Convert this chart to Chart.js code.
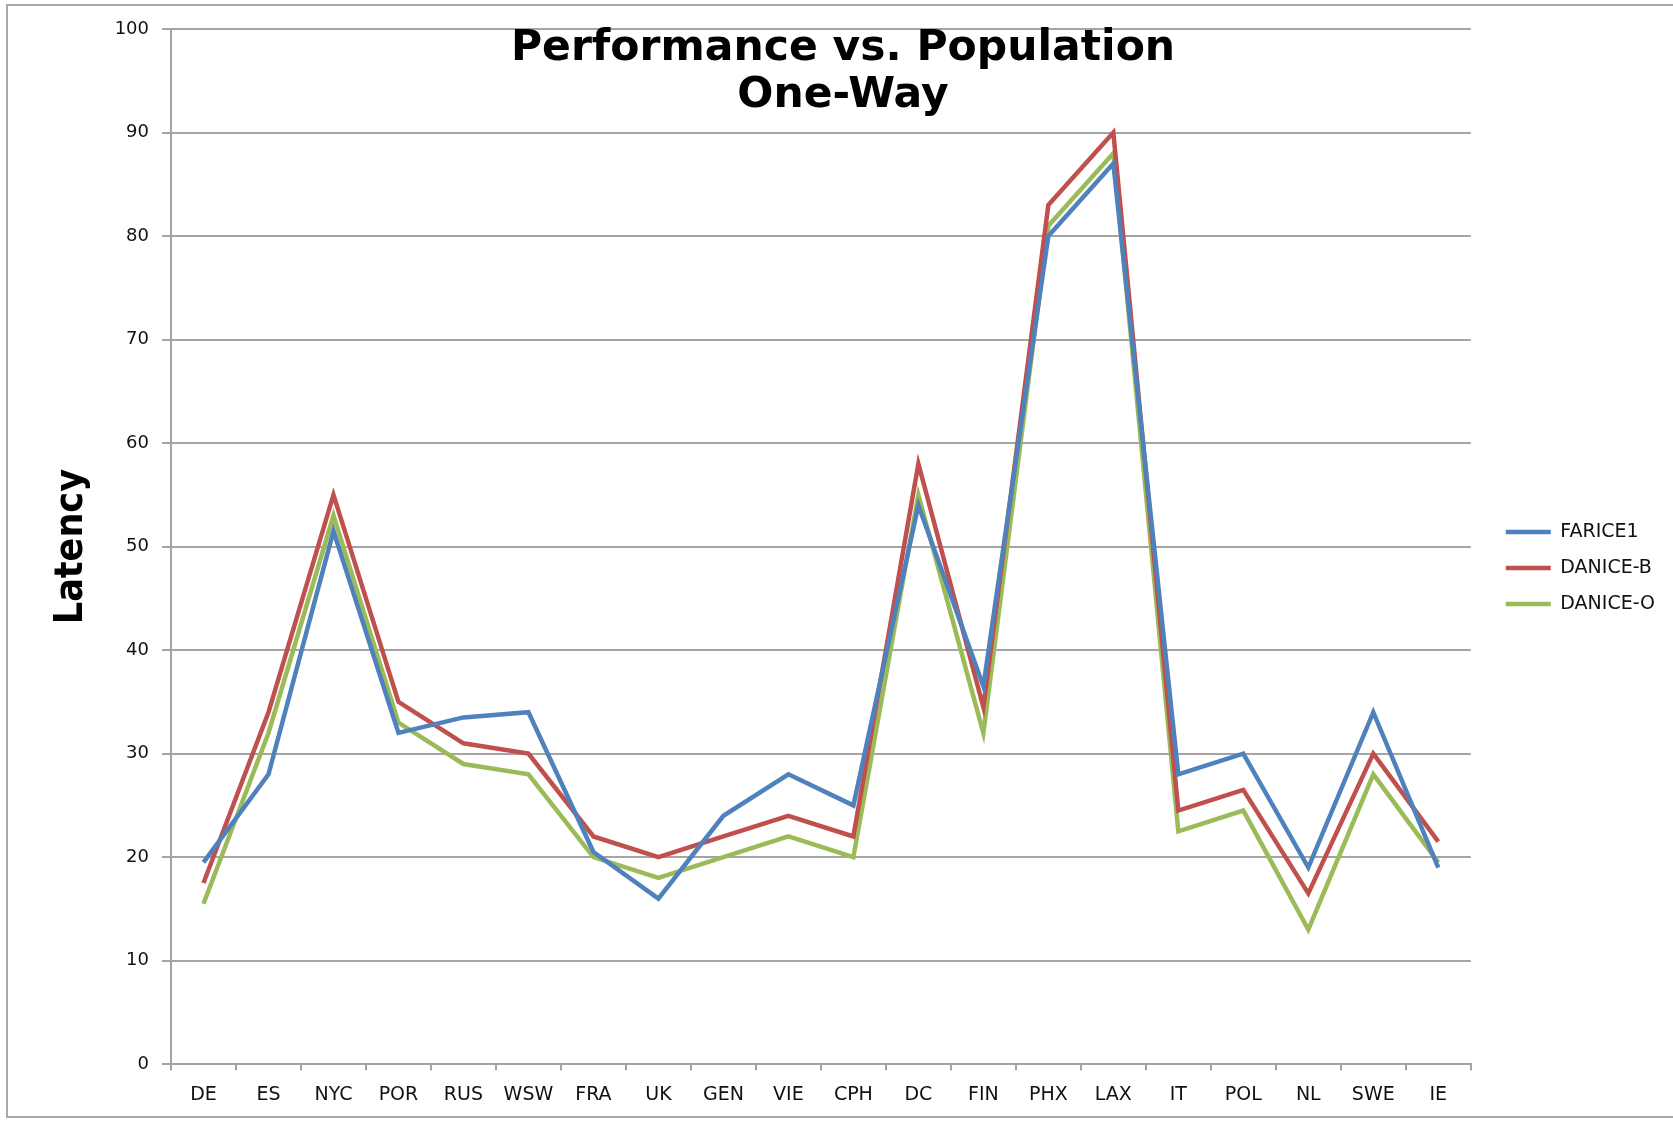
<!DOCTYPE html>
<html>
<head>
<meta charset="utf-8">
<script src="https://cdn.jsdelivr.net/npm/chart.js@4.4.1/dist/chart.umd.min.js"></script>
<style>
  html, body { margin: 0; padding: 0; background: #ffffff; overflow: hidden; }
  #wrap { position: relative; width: 1673px; height: 1121px; }
  #frame { position: absolute; left: 6px; top: 4px; width: 1700px; height: 1114px; border: 2px solid #a8a8a8; box-sizing: border-box; }
  #c { position: absolute; left: 0; top: 0; }
</style>
</head>
<body>
<div id="wrap">
  <div id="frame"></div>
  <canvas id="c" width="1673" height="1121"></canvas>
</div>
<script>
const categories = ["DE","ES","NYC","POR","RUS","WSW","FRA","UK","GEN","VIE","CPH","DC","FIN","PHX","LAX","IT","POL","NL","SWE","IE"];
const farice1  = [19.5, 28, 51.5, 32, 33.5, 34, 20.5, 16, 24, 28, 25, 54, 36.5, 80, 87, 28, 30, 19, 34, 19];
const daniceB  = [17.5, 34, 55, 35, 31, 30, 22, 20, 22, 24, 22, 58, 34.5, 83, 90, 24.5, 26.5, 16.5, 30, 21.5];
const daniceO  = [15.5, 32, 53, 33, 29, 28, 20, 18, 20, 22, 20, 55, 32, 81, 88, 22.5, 24.5, 13, 28, 19.5];
const seriesNames = ["FARICE1", "DANICE-B", "DANICE-O"];
const yTicks = [0, 10, 20, 30, 40, 50, 60, 70, 80, 90, 100];
const titleLines = ["Performance vs. Population", "One-Way"];
const yAxisTitle = "Latency";

const colors = ["#4F81BD", "#C0504D", "#9BBB59"];
const gridColor = "#a4a4a4";

const titlePlugin = {
  id: 'customTitle',
  afterLayout(chart) {
    // nudge legend to match the reference placement
    chart.legend.left += 18;
    chart.legend.right += 18;
    chart.legend.top -= 6;
    chart.legend.bottom -= 6;
  },
  afterDraw(chart) {
    const ctx = chart.ctx;
    ctx.save();
    ctx.fillStyle = '#000';
    ctx.font = "bold 42.5px 'DejaVu Sans'";
    ctx.textAlign = 'center';
    ctx.textBaseline = 'alphabetic';
    ctx.fillText(titleLines[0], 843, 60);
    ctx.fillText(titleLines[1], 843, 107);
    ctx.restore();
  }
};

const ctx = document.getElementById('c').getContext('2d');
new Chart(ctx, {
  type: 'line',
  data: {
    labels: categories,
    datasets: [farice1, daniceB, daniceO].map((d, i) => ({
      label: seriesNames[i],
      data: d,
      borderColor: colors[i],
      backgroundColor: colors[i],
      borderWidth: 4.5,
      pointRadius: 0,
      pointHoverRadius: 0,
      tension: 0,
      fill: false
    }))
  },
  options: {
    responsive: false,
    animation: false,
    devicePixelRatio: 1,
    layout: { padding: { left: 30, top: 29, bottom: 2, right: 26 } },
    plugins: {
      title: { display: false },
      tooltip: { enabled: false },
      legend: {
        position: 'right',
        align: 'center',
        labels: {
          usePointStyle: true,
          pointStyle: 'line',
          pointStyleWidth: 45,
          boxHeight: 19,
          padding: 17,
          color: '#111',
          font: { family: "'DejaVu Sans'", size: 19 }
        }
      }
    },
    scales: {
      x: {
        type: 'category',
        offset: true,
        grid: {
          offset: true,
          drawOnChartArea: false,
          drawTicks: true,
          tickLength: 6,
          color: gridColor,
          lineWidth: 2
        },
        border: { display: true, color: gridColor, width: 2 },
        ticks: {
          color: '#111',
          padding: 13,
          maxRotation: 0,
          autoSkip: false,
          font: { family: "'DejaVu Sans'", size: 19 }
        }
      },
      y: {
        min: 0,
        max: 100,
        afterBuildTicks(scale) {
          scale.ticks = yTicks.map(v => ({ value: v }));
        },
        afterFit(scale) { scale.width = 141; },
        grid: {
          color: gridColor,
          lineWidth: 2,
          drawTicks: true,
          tickLength: 9
        },
        border: { display: true, color: gridColor, width: 2 },
        ticks: {
          color: '#111',
          padding: 13,
          font: { family: "'DejaVu Sans'", size: 18 }
        },
        title: {
          display: true,
          text: yAxisTitle,
          color: '#000',
          padding: { top: 18, bottom: 0 },
          font: { family: "'DejaVu Sans Condensed', 'DejaVu Sans'", size: 39, weight: 'bold' }
        }
      }
    }
  },
  plugins: [titlePlugin]
});
</script>
</body>
</html>
